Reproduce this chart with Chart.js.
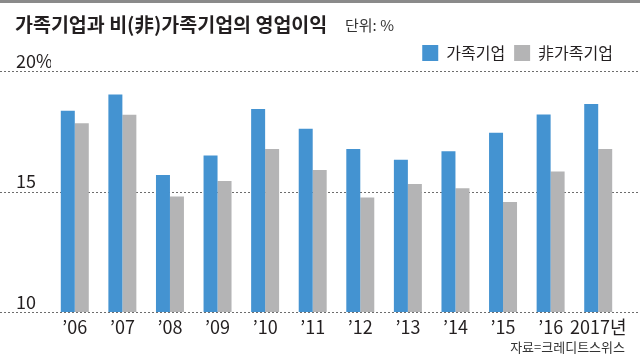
<!DOCTYPE html>
<html>
<head>
<meta charset="utf-8">
<script src="https://cdn.jsdelivr.net/npm/chart.js@4/dist/chart.umd.min.js"></script>
<style>
  html,body{margin:0;padding:0;background:#fff;}
  #wrap{position:relative;width:640px;height:355px;overflow:hidden;font-family:"Noto Sans CJK KR","Noto Sans",sans-serif;}
  #topbar{position:absolute;left:0;top:0;width:640px;height:3px;background:#8a8a8a;}
  #title{position:absolute;left:15px;top:14px;font-size:19.5px;line-height:1;font-weight:700;color:#231f20;white-space:nowrap;}
  #unit{position:absolute;left:345px;top:17px;font-size:15px;line-height:1;color:#333;white-space:nowrap;}
  #source{position:absolute;right:15px;top:340px;font-size:13px;line-height:1;color:#333;white-space:nowrap;}
  canvas{position:absolute;left:0;top:0;}
</style>
</head>
<body>
<div id="wrap">
  <canvas id="c" width="640" height="355"></canvas>
  <div id="topbar"></div>
  <div id="title">가족기업과 비(非)가족기업의 영업이익</div>
  <div id="unit">단위: %</div>
  <div id="source">자료=크레디트스위스</div>
</div>
<script>
const categories = ["\u201906","\u201907","\u201908","\u201909","\u201910","\u201911","\u201912","\u201913","\u201914","\u201915","\u201916","2017년"];
const familyFirms = [18.35,19.03,15.68,16.49,18.42,17.60,16.76,16.32,16.67,17.44,18.19,18.63];
const nonFamilyFirms = [17.83,18.18,14.79,15.44,16.76,15.89,14.75,15.31,15.14,14.56,15.83,16.76];
const yTickValues = [10,15,20];
const yTickLabels = {10:"10",15:"15",20:"20%"};
const seriesNames = ["가족기업","非가족기업"];

const FONT = '"Noto Sans CJK KR","Noto Sans",sans-serif';

const fullGrid = {
  id:'fullGrid',
  beforeDatasetsDraw(chart){
    const y = chart.scales.y, ctx = chart.ctx;
    ctx.save();
    ctx.strokeStyle = '#6d6d6d';
    ctx.lineWidth = 1;
    ctx.setLineDash([2,2]);
    y.ticks.forEach(t=>{
      const py = Math.round(y.getPixelForValue(t.value)) + 0.5;
      ctx.beginPath(); ctx.moveTo(0,py); ctx.lineTo(chart.width,py); ctx.stroke();
    });
    ctx.restore();
  }
};

new Chart(document.getElementById('c'), {
  type:'bar',
  data:{
    labels:categories,
    datasets:[
      {label:seriesNames[0], data:familyFirms, backgroundColor:'#4493d1', borderWidth:0, categoryPercentage:0.588, barPercentage:1},
      {label:seriesNames[1], data:nonFamilyFirms, backgroundColor:'#b4b4b5', borderWidth:0, categoryPercentage:0.588, barPercentage:1}
    ]
  },
  options:{
    responsive:false,
    animation:false,
    layout:{padding:{left:16,right:18,top:36,bottom:0}},
    plugins:{
      title:{display:false},
      tooltip:{enabled:false},
      legend:{
        display:true, position:'top', align:'end',
        labels:{font:{family:FONT,size:16}, color:'#231f20', boxWidth:16, boxHeight:16, padding:9}
      }
    },
    scales:{
      x:{
        grid:{display:false, drawTicks:false},
        border:{display:false},
        ticks:{font:{family:FONT,size:18}, color:'#231f20', padding:4, maxRotation:0, autoSkip:false},
        afterFit(s){ s.height = 43; }
      },
      y:{
        min:10, max:20,
        afterBuildTicks(s){ s.ticks = yTickValues.map(v=>({value:v})); },
        grid:{display:false, drawTicks:false},
        border:{display:false},
        ticks:{font:{family:FONT,size:18}, color:'#231f20', crossAlign:'far', labelOffset:-10, padding:0,
          callback:(v)=>yTickLabels[v] ?? ''},
        afterFit(s){ s.width = 35; s.paddingTop = 0; s.paddingBottom = 0; }
      }
    }
  },
  plugins:[fullGrid]
});
</script>
</body>
</html>
